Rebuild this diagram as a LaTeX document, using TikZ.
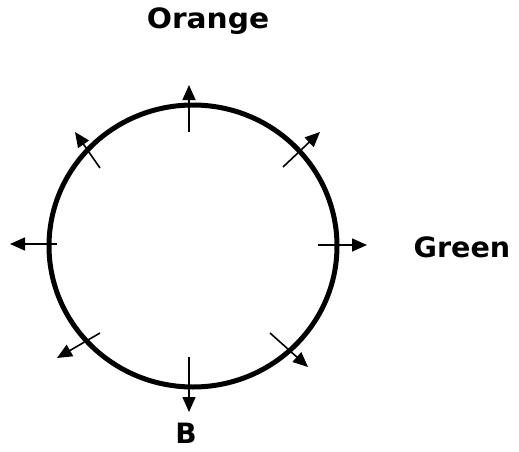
\documentclass[tikz,border=0pt]{standalone}
\usepackage{fontspec}
\usepackage{graphicx}
\usepackage{tikz}
\usetikzlibrary{arrows.meta}
\newfontfamily\labelfont{DejaVu Sans}

\begin{document}
\begin{tikzpicture}[
  x=1pt, y=-1pt,
  ring/.style={draw=black, line width=5pt},
  ray/.style={-{Triangle[length=15pt, width=13pt]}, line width=1.6pt, color=black},
  colname/.style={anchor=base, inner sep=0pt,
                  font=\labelfont\bfseries\fontsize{28}{32}\selectfont}
]
\useasboundingbox (0,0) rectangle (519,452);

\coordinate (ctr) at (193,246);
\draw[ring] (ctr) ellipse [x radius=144pt, y radius=141pt];

% arrow ends, inside and outside the ring
\coordinate (n-in) at (189,132);   \coordinate (n-out) at (189,85);
\coordinate (ne-in) at (283,167);  \coordinate (ne-out) at (320,132);
\coordinate (e-in) at (318,245);   \coordinate (e-out) at (367,245);
\coordinate (se-in) at (270,333);  \coordinate (se-out) at (308,367);
\coordinate (s-in) at (189,357);   \coordinate (s-out) at (189,412);
\coordinate (sw-in) at (100,333);  \coordinate (sw-out) at (57,358);
\coordinate (w-in) at (57,244);    \coordinate (w-out) at (10,244);
\coordinate (nw-in) at (100,168);  \coordinate (nw-out) at (75,132);

\draw[ray] (n-in) -- (n-out);
\draw[ray] (ne-in) -- (ne-out);
\draw[ray] (e-in) -- (e-out);
\draw[ray] (se-in) -- (se-out);
\draw[ray] (s-in) -- (s-out);
\draw[ray] (sw-in) -- (sw-out);
\draw[ray] (w-in) -- (w-out);
\draw[ray] (nw-in) -- (nw-out);

\node[colname] (orange) at (208,29) {\scalebox{1.06}[1]{Orange}};
\node[colname] (green) at (462,257) {\scalebox{1.02}[1]{Green}};
\node[colname] (b) at (186,443) {B};

\end{tikzpicture}
\end{document}
